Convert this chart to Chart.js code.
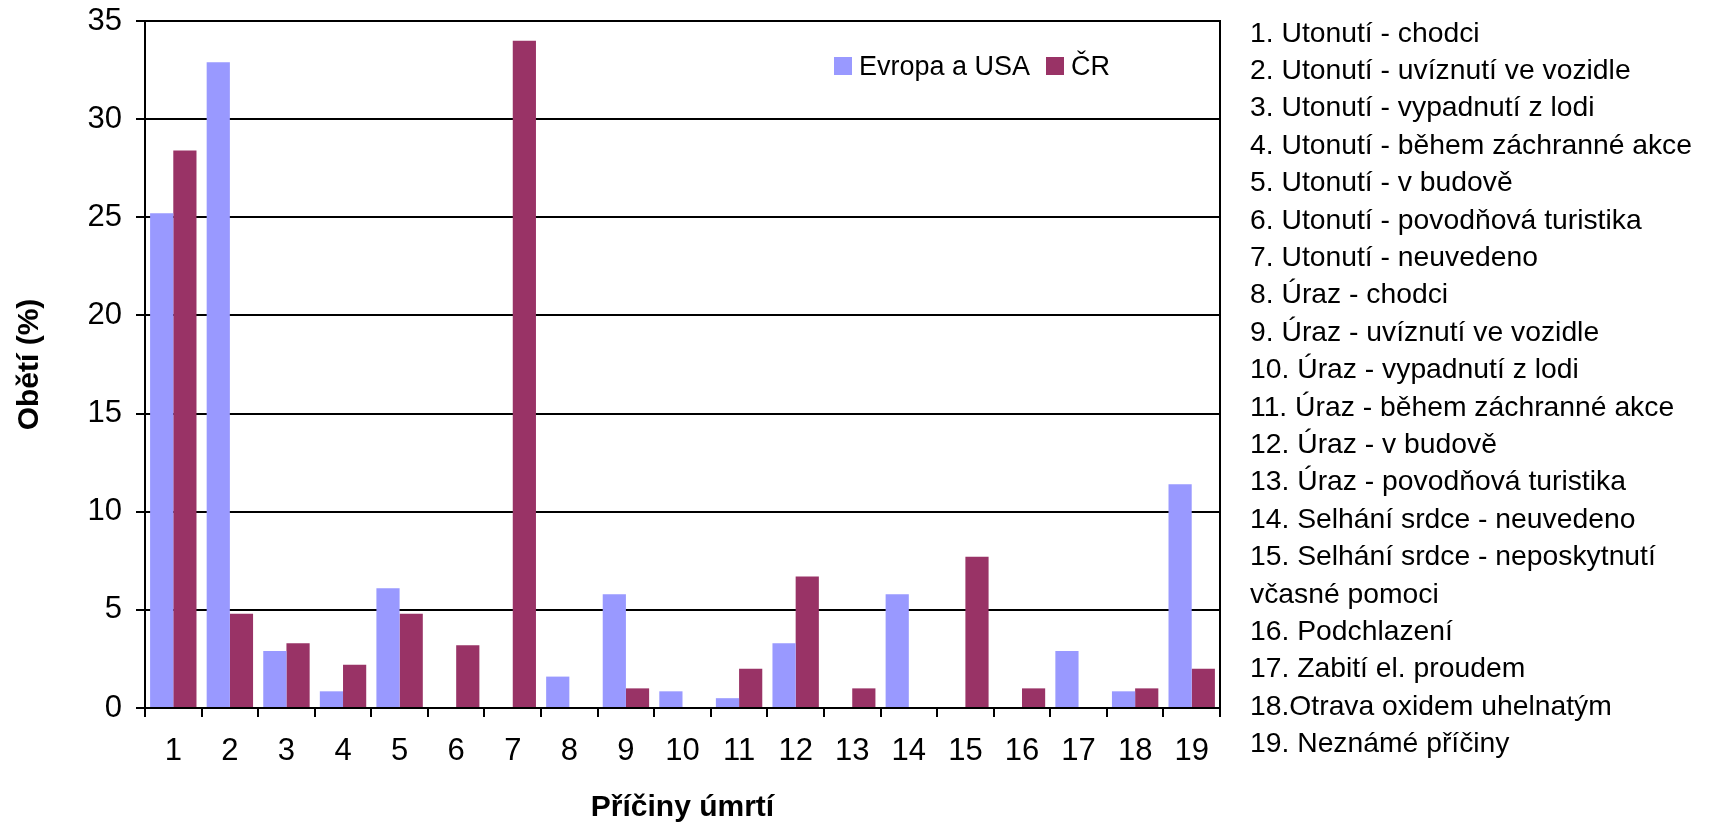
<!DOCTYPE html>
<html lang="cs">
<head>
<meta charset="utf-8">
<title>Příčiny úmrtí</title>
<script src="https://cdn.jsdelivr.net/npm/chart.js@4.4.1/dist/chart.umd.min.js"></script>
<style>
  html, body { margin: 0; padding: 0; background: #fff; }
  #wrap { position: relative; width: 1712px; height: 829px; overflow: hidden;
          font-family: "Liberation Sans", Arial, sans-serif; color: #000; }
  #chart { position: absolute; left: 0; top: 0; }
  #legend { position: absolute; left: 834px; top: 50.5px; display: flex; align-items: center;
            font-size: 27px; line-height: 30px; white-space: nowrap; }
  #legend .item { display: flex; align-items: center; margin-right: 16px; }
  #legend .swatch { width: 18px; height: 18px; margin-right: 7px; }
  #causes { position: absolute; left: 1250px; top: 13.5px; font-size: 28.3px; line-height: 37.4px; }
  #causes div { white-space: pre; }
</style>
</head>
<body>
<div id="wrap">
  <canvas id="chart" width="1712" height="829"></canvas>
  <div id="legend"></div>
  <div id="causes"></div>
</div>
<script>
// Kategorie (čísla příčin) a hodnoty obou řad v procentech
const categories = ['1','2','3','4','5','6','7','8','9','10','11','12','13','14','15','16','17','18','19'];
const evropaUsa = [25.2, 32.9, 2.9, 0.85, 6.1, 0, 0, 1.6, 5.8, 0.85, 0.5, 3.3, 0, 5.8, 0, 0, 2.9, 0.85, 11.4];
const cr        = [28.4, 4.8, 3.3, 2.2, 4.8, 3.2, 34.0, 0, 1.0, 0, 2.0, 6.7, 1.0, 0, 7.7, 1.0, 0, 1.0, 2.0];
const yTicks = [0, 5, 10, 15, 20, 25, 30, 35];
const seriesNames = ['Evropa a USA', 'ČR'];
const causes = [
  '1. Utonutí - chodci',
  '2. Utonutí - uvíznutí ve vozidle',
  '3. Utonutí - vypadnutí z lodi',
  '4. Utonutí - během záchranné akce',
  '5. Utonutí - v budově',
  '6. Utonutí - povodňová turistika',
  '7. Utonutí - neuvedeno',
  '8. Úraz - chodci',
  '9. Úraz - uvíznutí ve vozidle',
  '10. Úraz - vypadnutí z lodi',
  '11. Úraz - během záchranné akce',
  '12. Úraz - v budově',
  '13. Úraz - povodňová turistika',
  '14. Selhání srdce - neuvedeno',
  '15. Selhání srdce - neposkytnutí\nvčasné pomoci',
  '16. Podchlazení',
  '17. Zabití el. proudem',
  '18.Otrava oxidem uhelnatým',
  '19. Neznámé příčiny'
];

const FONT = '"Liberation Sans", Arial, sans-serif';

// Seznam příčin vpravo od grafu
const causesEl = document.getElementById('causes');
causes.forEach(c => {
  c.split('\n').forEach(line => {
    const d = document.createElement('div');
    d.textContent = line;
    causesEl.appendChild(d);
  });
});

// Legenda vložená do plochy grafu, sestavená z datových řad
const htmlLegend = {
  id: 'htmlLegend',
  afterUpdate(chart) {
    const box = document.getElementById('legend');
    box.innerHTML = '';
    chart.options.plugins.legend.labels.generateLabels(chart).forEach(item => {
      const it = document.createElement('div');
      it.className = 'item';
      const sw = document.createElement('span');
      sw.className = 'swatch';
      sw.style.background = item.fillStyle;
      const tx = document.createElement('span');
      tx.textContent = item.text;
      it.appendChild(sw);
      it.appendChild(tx);
      box.appendChild(it);
    });
  }
};

new Chart(document.getElementById('chart'), {
  type: 'bar',
  data: {
    labels: categories,
    datasets: [
      { label: seriesNames[0], data: evropaUsa, backgroundColor: '#9999FF', borderWidth: 0 },
      { label: seriesNames[1], data: cr, backgroundColor: '#993366', borderWidth: 0 }
    ]
  },
  options: {
    responsive: false,
    animation: false,
    devicePixelRatio: 1,
    layout: { padding: { left: 0, top: 21, right: 492, bottom: 0 } },
    datasets: { bar: { categoryPercentage: 0.82, barPercentage: 1.0 } },
    plugins: {
      legend: { display: false },
      tooltip: { enabled: false }
    },
    scales: {
      x: {
        grid: { drawOnChartArea: false, drawTicks: true, tickLength: 9, color: '#000', lineWidth: 2, offset: true },
        border: { display: true, color: '#000', width: 2 },
        ticks: { color: '#000', font: { family: FONT, size: 31 }, padding: 16, maxRotation: 0, autoSkip: false },
        title: { display: true, text: 'Příčiny úmrtí', color: '#000',
                 font: { family: FONT, size: 30, weight: 'bold' }, padding: { top: 0, bottom: 3 } },
        afterFit(scale) { scale.height = 121; }
      },
      y: {
        min: 0, max: 35,
        afterBuildTicks(scale) { scale.ticks = yTicks.map(v => ({ value: v })); },
        grid: { color: '#000', lineWidth: 2, tickLength: 9, drawTicks: true },
        border: { display: true, color: '#000', width: 2 },
        ticks: { color: '#000', font: { family: FONT, size: 31 }, padding: 14 },
        title: { display: true, text: 'Obětí (%)', color: '#000',
                 font: { family: FONT, size: 30, weight: 'bold' }, padding: { top: 12, bottom: 0 } },
        afterFit(scale) {
          scale.width = 145;
          // the plot frame is fixed by the layout padding, not by the label overhang
          scale.paddingTop = 0;
          scale.paddingBottom = 0;
        }
      },
      yRight: {
        position: 'right',
        min: 0, max: 35,
        grid: { drawOnChartArea: false, drawTicks: false },
        border: { display: true, color: '#000', width: 2 },
        ticks: { display: false },
        afterFit(scale) { scale.width = 0; scale.paddingTop = 0; scale.paddingBottom = 0; }
      }
    }
  },
  plugins: [htmlLegend]
});
</script>
</body>
</html>
